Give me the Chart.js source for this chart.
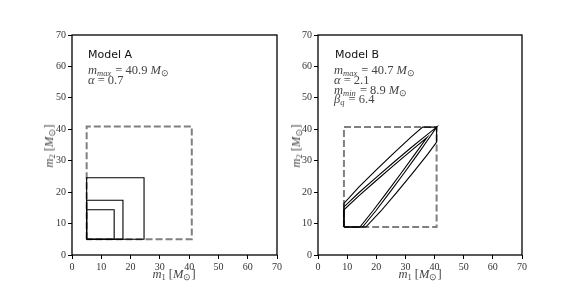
<!DOCTYPE html>
<html>
<head>
<meta charset="utf-8">
<script src="https://cdn.jsdelivr.net/npm/chart.js@4.4.0/dist/chart.umd.min.js"></script>
<style>
  body { margin: 0; background: #fff; }
  #wrap { position: relative; width: 581px; height: 291px; overflow: hidden; }
  canvas { position: absolute; top: 0; }
  #chartA { left: 0; }
  #chartB { left: 280px; }
  .note { position: absolute; white-space: nowrap; color: #444;
          font-family: "Liberation Serif", serif; font-size: 12.5px; line-height: 12px; }
  .note i, .axt i { font-style: italic; }
  .note sub, .axt sub { font-size: 8.5px; vertical-align: -2px; line-height: 0; }
  .note sub { margin-right: 1px; }
  .model { position: absolute; white-space: nowrap; color: #111;
           font-family: "DejaVu Sans", sans-serif; font-size: 11px; line-height: 11px; }
  .axt { position: absolute; white-space: nowrap; color: #444;
         font-family: "Liberation Serif", serif; font-size: 12.5px; line-height: 12px; }
  .axt.xt { transform: translate(-50%, -50%); }
  .axt.yt { transform: translate(-50%, -50%) rotate(-90deg); }
</style>
</head>
<body>
<div id="wrap">
  <canvas id="chartA" width="290" height="291"></canvas>
  <canvas id="chartB" width="301" height="291"></canvas>

  <div class="model" style="left:88px; top:49px;">Model A</div>
  <div class="note" style="left:88px; top:64px;"><i>m<sub>max</sub></i> = 40.9 <i>M</i><sub>⊙</sub></div>
  <div class="note" style="left:88px; top:74px;"><i>α</i> = 0.7</div>

  <div class="model" style="left:335px; top:49px;">Model B</div>
  <div class="note" style="left:334px; top:64px;"><i>m<sub>max</sub></i> = 40.7 <i>M</i><sub>⊙</sub></div>
  <div class="note" style="left:334px; top:74px;"><i>α</i> = 2.1</div>
  <div class="note" style="left:334px; top:84px;"><i>m<sub>min</sub></i> = 8.9 <i>M</i><sub>⊙</sub></div>
  <div class="note" style="left:334px; top:93px;"><i>β<sub>q</sub></i> = 6.4</div>

  <div class="axt xt" style="left:174px; top:274px;"><i>m</i><sub>1</sub> [<i>M</i><sub>⊙</sub>]</div>
  <div class="axt xt" style="left:420px; top:274px;"><i>m</i><sub>1</sub> [<i>M</i><sub>⊙</sub>]</div>
  <div class="axt yt" style="left:49px; top:146px;"><i>m</i><sub>2</sub> [<i>M</i><sub>⊙</sub>]</div>
  <div class="axt yt" style="left:296px; top:146px;"><i>m</i><sub>2</sub> [<i>M</i><sub>⊙</sub>]</div>
</div>

<script>
// axes
const axisMin = 0;
const axisMax = 70;
const tickStep = 10;

// Model A: prior box and three square contours
const boxA_x = [5, 5, 40.9, 40.9, 5];
const boxA_y = [5, 40.9, 40.9, 5, 5];
const sqA1_x = [5, 5, 24.6, 24.6, 5];
const sqA1_y = [5, 24.6, 24.6, 5, 5];
const sqA2_x = [5, 5, 17.4, 17.4, 5];
const sqA2_y = [5, 17.4, 17.4, 5, 5];
const sqA3_x = [5, 5, 14.4, 14.4, 5];
const sqA3_y = [5, 14.4, 14.4, 5, 5];

// Model B: prior box and three band contours
const boxB_x = [8.9, 8.9, 40.7, 40.7, 8.9];
const boxB_y = [8.9, 40.7, 40.7, 8.9, 8.9];
const bandB1_x = [8.9, 8.9, 14, 20, 26, 32, 35.9, 40.7, 40.7, 37.6, 32.4, 27.1, 21.6, 16.4, 8.9];
const bandB1_y = [8.9, 16.4, 21.6, 27.1, 32.4, 37.6, 40.7, 40.7, 35.9, 32, 26, 20, 14, 8.9, 8.9];
const bandB2_x = [8.9, 8.9, 14, 20, 26, 32, 36.5, 40.7, 37.6, 34.2, 29.5, 24.7, 19.8, 15.3, 8.9];
const bandB2_y = [8.9, 15.3, 19.8, 24.7, 29.5, 34.2, 37.6, 40.7, 36.5, 32, 26, 20, 14, 8.9, 8.9];
const bandB3_x = [8.9, 8.9, 14, 20, 26, 32, 37.4, 33.2, 28.5, 23.7, 18.8, 14.4, 8.9];
const bandB3_y = [8.9, 14.4, 18.8, 23.7, 28.5, 33.2, 37.4, 32, 26, 20, 14, 8.9, 8.9];

function pts(xs, ys) {
  return xs.map((x, i) => ({ x: x, y: ys[i] }));
}

function contour(xs, ys) {
  return { data: pts(xs, ys), showLine: true, borderColor: "#000", borderWidth: 1.1, pointRadius: 0, order: 0 };
}

function priorBox(xs, ys) {
  return { data: pts(xs, ys), showLine: true, borderColor: "#808080", borderWidth: 2,
           borderDash: [7, 3], pointRadius: 0, order: 1 };
}

// box round the plot, matplotlib style
const frame = {
  id: "frame",
  afterDraw(chart) {
    const { ctx, chartArea: a } = chart;
    ctx.save();
    ctx.strokeStyle = "#000";
    ctx.lineWidth = 1.3;
    ctx.strokeRect(a.left, a.top, a.right - a.left, a.bottom - a.top);
    ctx.restore();
  }
};

function makeChart(id, datasets, yWidth, rightPad) {
  const tickFont = { family: "Liberation Serif", size: 10 };
  return new Chart(document.getElementById(id), {
    type: "scatter",
    data: { datasets: datasets },
    options: {
      responsive: false,
      animation: false,
      layout: { padding: { left: 0, top: 35, right: rightPad, bottom: 0 } },
      plugins: { legend: { display: false }, tooltip: { enabled: false } },
      scales: {
        x: {
          min: axisMin, max: axisMax,
          ticks: { stepSize: tickStep, font: tickFont, color: "#333", padding: 2, maxRotation: 0 },
          grid: { drawOnChartArea: false, tickLength: 4, color: "#000" },
          border: { display: false },
          afterFit(s) { s.height = 36; }
        },
        y: {
          min: axisMin, max: axisMax,
          ticks: { stepSize: tickStep, font: tickFont, color: "#333", padding: 2 },
          grid: { drawOnChartArea: false, tickLength: 4, color: "#000" },
          border: { display: false },
          afterFit(s) { s.width = yWidth; }
        }
      }
    },
    plugins: [frame]
  });
}

makeChart("chartA", [
  contour(sqA1_x, sqA1_y),
  contour(sqA2_x, sqA2_y),
  contour(sqA3_x, sqA3_y),
  priorBox(boxA_x, boxA_y)
], 72, 13);

makeChart("chartB", [
  contour(bandB1_x, bandB1_y),
  contour(bandB2_x, bandB2_y),
  contour(bandB3_x, bandB3_y),
  priorBox(boxB_x, boxB_y)
], 38, 59);
</script>
</body>
</html>
